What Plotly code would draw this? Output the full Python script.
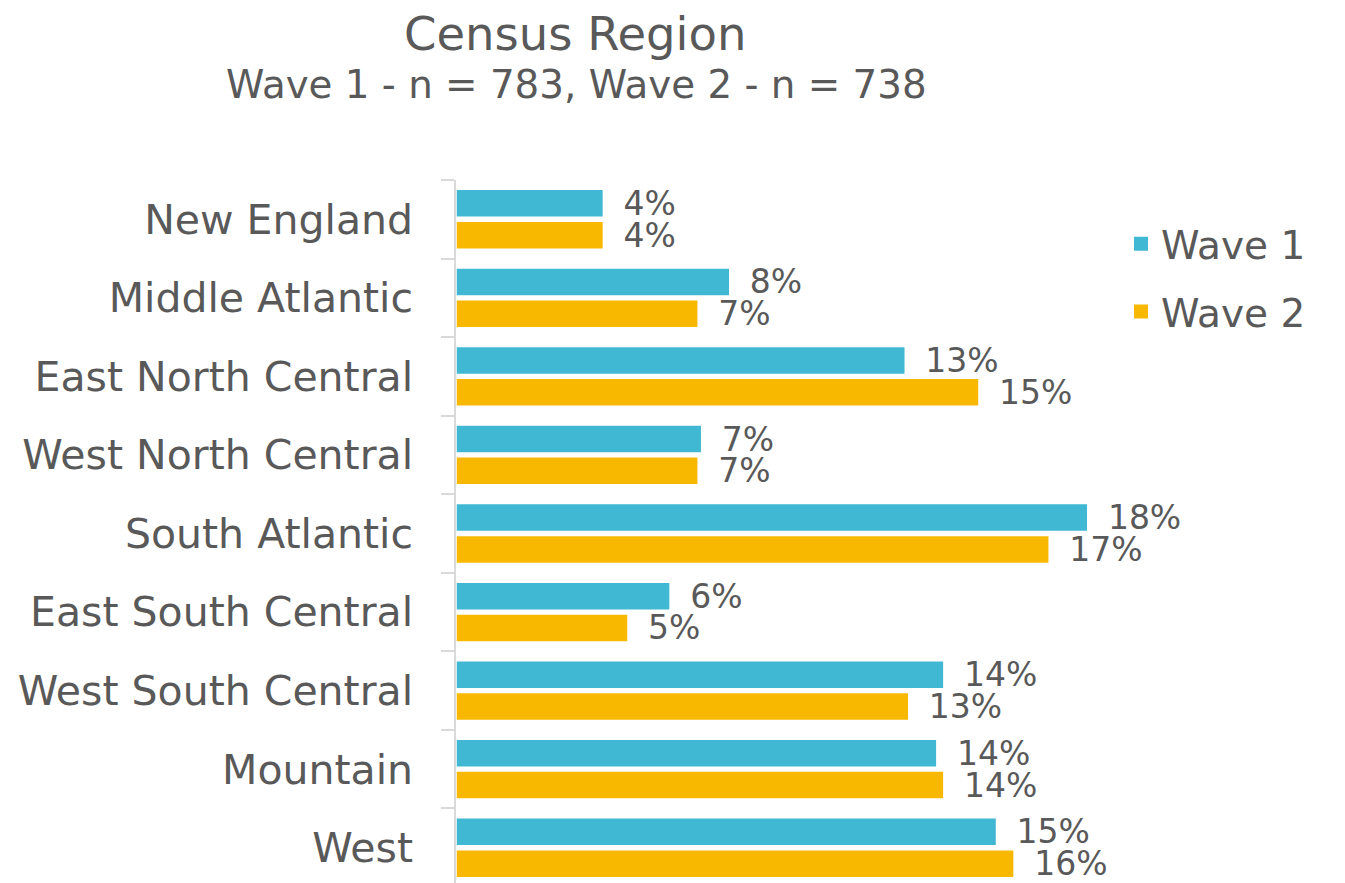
"""Census Region: Wave 1 vs Wave 2 horizontal grouped bars."""

import plotly.graph_objects as go

regions = [
    "New England", "Middle Atlantic", "East North Central", "West North Central",
    "South Atlantic", "East South Central", "West South Central", "Mountain", "West",
]
wave1 = [4.2, 7.8, 12.8, 7.0, 18.0, 6.1, 13.9, 13.7, 15.4]
wave2 = [4.2, 6.9, 14.9, 6.9, 16.9, 4.9, 12.9, 13.9, 15.9]
series_names = ["Wave 1", "Wave 2"]

TEAL = "#41B8D3"
GOLD = "#F9B800"
TEXT = "#595959"
AXIS = "#D9D9D9"
FONT = "DejaVu Sans"

# the page body has an 8px margin, so screen = canvas + 8
OFF = 8
W, H = 1345, 883
M_L, M_R, M_T, M_B = 448, 252, 172, 4
PW, PH = W - M_L - M_R, H - M_T - M_B


def px_x(p):
    return (p - OFF - M_L) / PW


def px_y(p):
    return (H - M_B - (p - OFF)) / PH


fig = go.Figure()
for name, vals, color in zip(series_names, [wave1, wave2], [TEAL, GOLD]):
    fig.add_trace(go.Bar(
        y=regions, x=vals, name=name, orientation="h",
        marker=dict(color=color, line=dict(color="white", width=1.5)),
        texttemplate="\u00a0\u2009%{x:.0f}%",
        textposition="outside",
        textfont=dict(family=FONT, size=33, color=TEXT),
        constraintext="none",
        cliponaxis=False,
        showlegend=False,
        legendgroup=name,
    ))
    # legend swatch
    fig.add_trace(go.Scatter(
        y=[None], x=[None], mode="markers", name=name, legendgroup=name,
        marker=dict(symbol="square", size=20, color=color,
                    line=dict(color="white", width=2)),
    ))

fig.add_annotation(
    text="Census Region", xref="paper", yref="paper",
    x=px_x(575), y=px_y(34), xanchor="center", yanchor="middle",
    showarrow=False, font=dict(family=FONT, size=46.5, color=TEXT),
)
fig.add_annotation(
    text="Wave 1 - n = 783, Wave 2 - n = 738", xref="paper", yref="paper",
    x=px_x(576), y=px_y(85), xanchor="center", yanchor="middle",
    showarrow=False, font=dict(family=FONT, size=38.8, color=TEXT),
)

fig.update_layout(
    width=W, height=H,
    margin=dict(l=M_L, r=M_R, t=M_T, b=M_B, pad=0, autoexpand=False),
    paper_bgcolor="white", plot_bgcolor="white",
    barmode="group", bargap=0.19, bargroupgap=0.12,
    font=dict(family=FONT, color=TEXT),
    xaxis=dict(visible=False, range=[0, PW / 35.1], fixedrange=True),
    yaxis=dict(
        type="category", autorange="reversed", automargin=False,
        showline=True, linecolor=AXIS, linewidth=1.5,
        ticks="outside", tickson="boundaries", ticklen=13,
        tickcolor=AXIS, tickwidth=1.5,
        showgrid=False, ticklabelstandoff=33,
        tickfont=dict(family=FONT, size=41, color=TEXT),
    ),
    legend=dict(
        x=px_x(1121), y=px_y(212), xanchor="left", yanchor="top",
        font=dict(family=FONT, size=39, color=TEXT),
        traceorder="grouped", tracegroupgap=14,
        bgcolor="rgba(0,0,0,0)",
    ),
)

fig.write_html("out.html")
